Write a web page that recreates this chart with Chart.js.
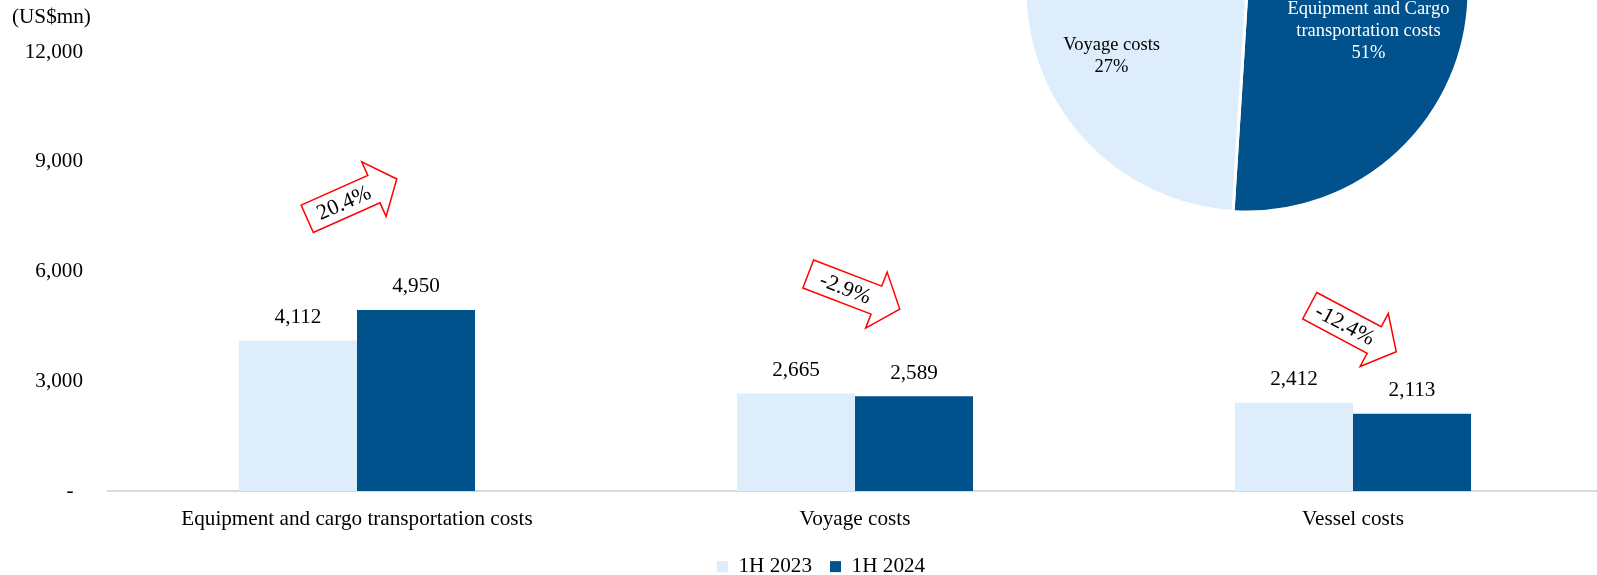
<!DOCTYPE html>
<html><head><meta charset="utf-8">
<script src="https://cdn.jsdelivr.net/npm/chart.js@4.4.1/dist/chart.umd.min.js"></script>
<style>
html,body{margin:0;padding:0;background:#fff;overflow:hidden;width:1597px;height:575px;}
#wrap{position:relative;width:1597px;height:575px;overflow:hidden;background:#fff;}
#bar{position:absolute;left:0;top:0;}
#pie{position:absolute;left:1017px;top:-240px;}
</style></head><body>
<div id="wrap"><canvas id="bar" width="1602" height="575"></canvas><canvas id="pie" width="460" height="460"></canvas></div>
<script>
// ---- data ----
const categories = ['Equipment and cargo transportation costs', 'Voyage costs', 'Vessel costs'];
const seriesNames = ['1H 2023', '1H 2024'];
const values2023 = [4112, 2665, 2412];
const values2024 = [4950, 2589, 2113];
const changeLabels = ['20.4%', '-2.9%', '-12.4%'];
const yTickValues = [0, 3000, 6000, 9000, 12000];
const yTickLabels = ['- \u2009', '3,000', '6,000', '9,000', '12,000'];
const pieLabels = [['Equipment and Cargo', 'transportation costs'], ['Voyage costs'], ['Vessel costs']];
const pieShares = [51, 27, 22];
const unitLabel = '(US$mn)';

// ---- style ----
const LIGHT = '#DEEDFC';
const DARK = '#00518C';
const MID = '#6FA8DC';
const FONT = 'Liberation Serif, Times New Roman, serif';
const font21 = {family: FONT, size: 21.2};

const valueLabelPlugin = {
  id: 'valueLabels',
  afterDatasetsDraw(chart) {
    const ctx = chart.ctx;
    ctx.save();
    ctx.font = '21.2px ' + FONT;
    ctx.fillStyle = '#000';
    ctx.textAlign = 'center';
    ctx.textBaseline = 'middle';
    chart.data.datasets.forEach((ds, di) => {
      chart.getDatasetMeta(di).data.forEach((el, i) => {
        ctx.fillText(ds.data[i].toLocaleString('en-US'), el.x, el.y - 23);
      });
    });
    ctx.restore();
  }
};

const arrowPlugin = {
  id: 'changeArrows',
  afterDatasetsDraw(chart, args, opts) {
    const ctx = chart.ctx;
    const xs = chart.scales.x, ys = chart.scales.y;
    categories.forEach((c, i) => {
      const top = ys.getPixelForValue(Math.max(values2023[i], values2024[i]));
      const cx = xs.getPixelForValue(i) + opts.dx[i];
      const cy = top + opts.dy[i];
      const a = opts.angles[i] * Math.PI / 180;
      ctx.save();
      ctx.translate(cx, cy);
      ctx.rotate(a);
      const L = 49, bh = 15, hh = 30, hx = 24;
      ctx.beginPath();
      ctx.moveTo(-L, -bh); ctx.lineTo(hx, -bh); ctx.lineTo(hx, -hh); ctx.lineTo(L, 0);
      ctx.lineTo(hx, hh); ctx.lineTo(hx, bh); ctx.lineTo(-L, bh); ctx.closePath();
      ctx.fillStyle = '#fff';
      ctx.fill();
      ctx.strokeStyle = '#FF0000';
      ctx.lineWidth = 1.5;
      ctx.stroke();
      ctx.fillStyle = '#000';
      ctx.font = '22px ' + FONT;
      ctx.textAlign = 'center';
      ctx.textBaseline = 'middle';
      ctx.fillText(changeLabels[i], -9, 1);
      ctx.restore();
    });
  }
};

const unitPlugin = {
  id: 'unitLabel',
  afterLayout(chart) {
    // centre the legend row as in the reference and place it near the bottom
    chart.legend.left = 40;
    chart.legend.top = 538;
  },
  afterDraw(chart) {
    const ctx = chart.ctx;
    ctx.save();
    ctx.font = '21.2px ' + FONT;
    ctx.fillStyle = '#000';
    ctx.textAlign = 'left';
    ctx.textBaseline = 'middle';
    ctx.fillText(unitLabel, 12, 17);
    ctx.restore();
  }
};

new Chart(document.getElementById('bar'), {
  type: 'bar',
  data: {
    labels: categories,
    datasets: [
      {label: seriesNames[0], data: values2023, backgroundColor: LIGHT},
      {label: seriesNames[1], data: values2024, backgroundColor: DARK}
    ]
  },
  options: {
    responsive: false,
    animation: false,
    devicePixelRatio: 1,
    layout: {padding: {left: 0, right: 0, top: 52, bottom: 0}},
    datasets: {bar: {categoryPercentage: 0.474, barPercentage: 1}},
    scales: {
      x: {
        grid: {display: false, drawTicks: false},
        border: {display: true, color: '#D9D9D9', width: 2},
        ticks: {font: font21, color: '#000', padding: 16},
        afterFit: (axis) => { axis.height = 43; }
      },
      y: {
        min: 0, max: 12000,
        afterBuildTicks: (axis) => { axis.ticks = yTickValues.map(v => ({value: v})); },
        afterFit: (axis) => { axis.width = 108; },
        grid: {display: false, drawTicks: false},
        border: {display: false},
        ticks: {font: font21, color: '#000', padding: 25, callback: (v, i) => yTickLabels[i]}
      }
    },
    plugins: {
      legend: {position: 'bottom', maxHeight: 41, labels: {boxWidth: 11, boxHeight: 11, font: font21, color: '#000', padding: 18}},
      tooltip: {enabled: false},
      changeArrows: {angles: [-24, 21, 28], dx: [-5, -1, 0], dy: [-111, -102, -74]}
    }
  },
  plugins: [valueLabelPlugin, arrowPlugin, unitPlugin]
});

const pieLabelPlugin = {
  id: 'pieLabels',
  afterDatasetsDraw(chart) {
    const ctx = chart.ctx;
    const arcs = chart.getDatasetMeta(0).data;
    const pos = [[0.547, 0.185], [-0.61, 0.299], [-0.5, -0.4]];
    const colors = ['#fff', '#000', '#000'];
    ctx.save();
    ctx.font = '18.5px ' + FONT;
    ctx.textAlign = 'center';
    ctx.textBaseline = 'middle';
    arcs.forEach((arc, i) => {
      const R = arc.outerRadius;
      const lines = pieLabels[i].concat([pieShares[i] + '%']);
      const x = arc.x + pos[i][0] * R;
      const yc = arc.y + pos[i][1] * R;
      ctx.fillStyle = colors[i];
      lines.forEach((t, k) => {
        ctx.fillText(t, x, yc + (k - (lines.length - 1) / 2) * 22);
      });
    });
    ctx.restore();
  }
};

new Chart(document.getElementById('pie'), {
  type: 'pie',
  data: {
    labels: pieLabels.map(l => l.join(' ')),
    datasets: [{data: pieShares, backgroundColor: [DARK, LIGHT, MID], borderColor: '#fff', borderWidth: 3, radius: 222}]
  },
  options: {
    responsive: false,
    animation: false,
    devicePixelRatio: 1,
    layout: {padding: 0},
    plugins: {legend: {display: false}, tooltip: {enabled: false}}
  },
  plugins: [pieLabelPlugin]
});
</script>
</body></html>
